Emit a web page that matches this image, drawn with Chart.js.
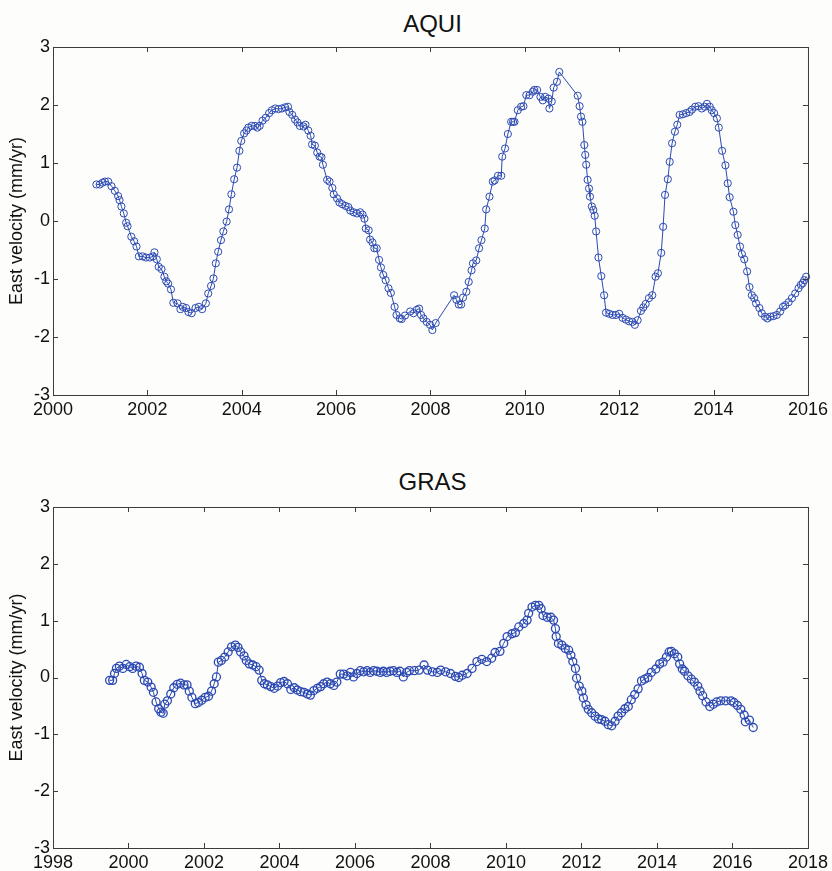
<!DOCTYPE html>
<html>
<head>
<meta charset="utf-8">
<title>East velocity – AQUI / GRAS</title>
<script src="https://cdn.jsdelivr.net/npm/chart.js@4/dist/chart.umd.min.js"></script>
<style>
  html, body { margin: 0; padding: 0; background: #fdfdfc; }
  body { width: 832px; height: 871px; position: relative; overflow: hidden; font-family: "Liberation Sans", Arial, sans-serif; }
  .panel { position: absolute; left: 0; width: 832px; }
  .ttl { position: absolute; left: 53px; width: 759px; text-align: center; font-size: 24px; line-height: 24px; color: #111; }
</style>
</head>
<body>
<div class="ttl" style="top:12px">AQUI</div>
<div class="panel" style="top:0"><canvas id="aquiChart" width="832" height="425"></canvas></div>
<div class="ttl" style="top:470px">GRAS</div>
<div class="panel" style="top:460px"><canvas id="grasChart" width="832" height="411"></canvas></div>
<script>
// AQUI station, east velocity (mm/yr)
const aquiYears = [
  2000.92, 2000.99, 2001.05, 2001.10, 2001.17, 2001.24, 2001.31, 2001.38, 2001.41, 2001.45,
  2001.50, 2001.55, 2001.58, 2001.66, 2001.72, 2001.77, 2001.82, 2001.90, 2001.97, 2002.05,
  2002.12, 2002.15, 2002.20, 2002.24, 2002.30, 2002.36, 2002.40, 2002.44, 2002.50, 2002.55,
  2002.64, 2002.70, 2002.75, 2002.82, 2002.87, 2002.94, 2003.02, 2003.09, 2003.16, 2003.24,
  2003.29, 2003.35, 2003.40, 2003.45, 2003.50, 2003.56, 2003.61, 2003.68, 2003.73, 2003.78,
  2003.84, 2003.90, 2003.95, 2003.99, 2004.05, 2004.10, 2004.14, 2004.21, 2004.28, 2004.33,
  2004.38, 2004.44, 2004.51, 2004.58, 2004.64, 2004.71, 2004.78, 2004.85, 2004.92, 2004.98,
  2005.01, 2005.07, 2005.13, 2005.18, 2005.23, 2005.31, 2005.35, 2005.41, 2005.46, 2005.49,
  2005.55, 2005.60, 2005.65, 2005.69, 2005.72, 2005.81, 2005.86, 2005.92, 2005.95, 2006.02,
  2006.07, 2006.13, 2006.20, 2006.26, 2006.30, 2006.37, 2006.44, 2006.51, 2006.56, 2006.60,
  2006.63, 2006.69, 2006.72, 2006.77, 2006.81, 2006.86, 2006.91, 2006.95, 2007.00, 2007.05,
  2007.11, 2007.16, 2007.24, 2007.28, 2007.35, 2007.39, 2007.46, 2007.57, 2007.64, 2007.71,
  2007.76, 2007.80, 2007.85, 2007.92, 2007.99, 2008.04, 2008.11, 2008.50, 2008.55, 2008.60,
  2008.65, 2008.69, 2008.76, 2008.81, 2008.87, 2008.90, 2008.97, 2009.03, 2009.08, 2009.15,
  2009.18, 2009.25, 2009.32, 2009.36, 2009.43, 2009.50, 2009.52, 2009.58, 2009.64, 2009.71,
  2009.75, 2009.78, 2009.85, 2009.92, 2009.97, 2010.03, 2010.10, 2010.17, 2010.20, 2010.26,
  2010.33, 2010.38, 2010.43, 2010.50, 2010.52, 2010.57, 2010.61, 2010.68, 2010.73, 2011.12,
  2011.16, 2011.19, 2011.22, 2011.26, 2011.28, 2011.30, 2011.33, 2011.36, 2011.38, 2011.42,
  2011.45, 2011.48, 2011.51, 2011.56, 2011.62, 2011.68, 2011.72, 2011.79, 2011.86, 2011.93,
  2012.00, 2012.07, 2012.14, 2012.21, 2012.28, 2012.33, 2012.39, 2012.46, 2012.51, 2012.56,
  2012.63, 2012.70, 2012.77, 2012.82, 2012.89, 2012.93, 2012.97, 2013.03, 2013.07, 2013.12,
  2013.18, 2013.23, 2013.28, 2013.35, 2013.42, 2013.49, 2013.54, 2013.61, 2013.68, 2013.75,
  2013.81, 2013.86, 2013.92, 2013.96, 2014.01, 2014.07, 2014.11, 2014.18, 2014.25, 2014.30,
  2014.34, 2014.42, 2014.46, 2014.51, 2014.56, 2014.60, 2014.65, 2014.71, 2014.76, 2014.81,
  2014.86, 2014.90, 2014.97, 2015.02, 2015.09, 2015.14, 2015.20, 2015.27, 2015.34, 2015.41,
  2015.47, 2015.52, 2015.59, 2015.66, 2015.73, 2015.80, 2015.85, 2015.89, 2015.92, 2015.96
];
const aquiVel = [
  0.63, 0.63, 0.66, 0.68, 0.68, 0.60, 0.52, 0.43, 0.36, 0.25,
  0.13, -0.03, -0.09, -0.27, -0.35, -0.44, -0.61, -0.61, -0.63, -0.63,
  -0.61, -0.54, -0.66, -0.79, -0.83, -0.96, -1.04, -1.08, -1.18, -1.41,
  -1.42, -1.52, -1.48, -1.50, -1.57, -1.59, -1.50, -1.48, -1.52, -1.42,
  -1.25, -1.12, -0.99, -0.73, -0.53, -0.33, -0.18, -0.01, 0.20, 0.46,
  0.72, 0.92, 1.21, 1.38, 1.51, 1.56, 1.61, 1.64, 1.64, 1.61,
  1.64, 1.73, 1.78, 1.86, 1.91, 1.94, 1.93, 1.94, 1.96, 1.97,
  1.88, 1.83, 1.75, 1.70, 1.64, 1.63, 1.66, 1.56, 1.47, 1.32,
  1.30, 1.18, 1.11, 1.10, 0.97, 0.71, 0.68, 0.57, 0.46, 0.39,
  0.32, 0.29, 0.26, 0.24, 0.18, 0.15, 0.13, 0.15, 0.11, 0.04,
  -0.13, -0.16, -0.32, -0.37, -0.47, -0.47, -0.67, -0.80, -0.93, -1.02,
  -1.16, -1.24, -1.48, -1.62, -1.68, -1.69, -1.63, -1.56, -1.59, -1.53,
  -1.51, -1.62, -1.68, -1.74, -1.79, -1.88, -1.76, -1.28, -1.36, -1.44,
  -1.44, -1.32, -1.22, -1.05, -0.85, -0.73, -0.68, -0.47, -0.33, -0.13,
  0.20, 0.42, 0.68, 0.70, 0.78, 0.78, 1.11, 1.25, 1.50, 1.71,
  1.71, 1.71, 1.91, 1.97, 1.98, 2.17, 2.17, 2.23, 2.26, 2.26,
  2.14, 2.08, 2.14, 2.11, 1.94, 2.06, 2.30, 2.40, 2.57, 2.16,
  1.98, 1.80, 1.71, 1.31, 1.14, 0.97, 0.71, 0.56, 0.42, 0.25,
  0.19, 0.09, -0.18, -0.63, -0.95, -1.28, -1.58, -1.60, -1.62, -1.62,
  -1.60, -1.67, -1.70, -1.73, -1.74, -1.79, -1.71, -1.55, -1.49, -1.43,
  -1.33, -1.28, -0.96, -0.90, -0.55, -0.10, 0.45, 0.72, 1.02, 1.34,
  1.54, 1.66, 1.83, 1.84, 1.86, 1.88, 1.92, 1.97, 1.98, 1.94,
  1.97, 2.02, 1.97, 1.91, 1.86, 1.77, 1.61, 1.21, 0.96, 0.65,
  0.41, 0.16, -0.07, -0.24, -0.44, -0.57, -0.66, -0.87, -1.14, -1.28,
  -1.33, -1.42, -1.50, -1.59, -1.65, -1.68, -1.65, -1.64, -1.62, -1.56,
  -1.48, -1.45, -1.40, -1.33, -1.25, -1.16, -1.10, -1.07, -1.02, -0.96
];

// GRAS station, east velocity (mm/yr)
const grasYears = [
  1999.50, 1999.58, 1999.63, 1999.68, 1999.76, 1999.85, 1999.94, 2000.03, 2000.11, 2000.20,
  2000.29, 2000.36, 2000.42, 2000.51, 2000.60, 2000.66, 2000.73, 2000.80, 2000.86, 2000.92,
  2000.96, 2001.03, 2001.12, 2001.20, 2001.29, 2001.38, 2001.47, 2001.55, 2001.61, 2001.68,
  2001.77, 2001.85, 2001.94, 2002.03, 2002.12, 2002.20, 2002.27, 2002.33, 2002.38, 2002.46,
  2002.55, 2002.64, 2002.73, 2002.83, 2002.90, 2002.97, 2003.06, 2003.12, 2003.20, 2003.29,
  2003.38, 2003.46, 2003.53, 2003.60, 2003.68, 2003.77, 2003.86, 2003.95, 2004.03, 2004.12,
  2004.21, 2004.30, 2004.39, 2004.47, 2004.56, 2004.65, 2004.74, 2004.82, 2004.91, 2005.00,
  2005.09, 2005.17, 2005.26, 2005.35, 2005.44, 2005.52, 2005.61, 2005.70, 2005.79, 2005.88,
  2005.96, 2006.05, 2006.14, 2006.23, 2006.32, 2006.40, 2006.49, 2006.58, 2006.67, 2006.75,
  2006.84, 2006.93, 2007.02, 2007.11, 2007.19, 2007.28, 2007.37, 2007.44, 2007.57, 2007.70,
  2007.83, 2007.92, 2008.05, 2008.18, 2008.27, 2008.40, 2008.53, 2008.66, 2008.75, 2008.84,
  2008.97, 2009.10, 2009.23, 2009.36, 2009.49, 2009.62, 2009.71, 2009.84, 2009.94, 2010.03,
  2010.16, 2010.25, 2010.34, 2010.47, 2010.56, 2010.60, 2010.69, 2010.78, 2010.87, 2010.93,
  2010.98, 2011.09, 2011.19, 2011.26, 2011.31, 2011.33, 2011.39, 2011.48, 2011.57, 2011.66,
  2011.72, 2011.77, 2011.84, 2011.87, 2011.94, 2012.01, 2012.05, 2012.12, 2012.18, 2012.27,
  2012.36, 2012.45, 2012.53, 2012.62, 2012.71, 2012.80, 2012.89, 2012.97, 2013.06, 2013.15,
  2013.24, 2013.32, 2013.41, 2013.50, 2013.59, 2013.67, 2013.76, 2013.85, 2013.97, 2014.07,
  2014.16, 2014.25, 2014.32, 2014.38, 2014.46, 2014.55, 2014.60, 2014.67, 2014.73, 2014.82,
  2014.91, 2014.99, 2015.08, 2015.14, 2015.21, 2015.30, 2015.40, 2015.49, 2015.58, 2015.69,
  2015.82, 2015.96, 2016.04, 2016.13, 2016.22, 2016.31, 2016.34, 2016.45, 2016.55
];
const grasVel = [
  -0.05, -0.05, 0.07, 0.16, 0.20, 0.16, 0.23, 0.19, 0.16, 0.20,
  0.18, 0.07, -0.05, -0.08, -0.17, -0.26, -0.43, -0.55, -0.61, -0.63,
  -0.47, -0.41, -0.29, -0.18, -0.12, -0.10, -0.13, -0.13, -0.24, -0.35,
  -0.46, -0.44, -0.40, -0.35, -0.33, -0.24, -0.11, 0.01, 0.27, 0.30,
  0.36, 0.45, 0.54, 0.57, 0.53, 0.45, 0.38, 0.30, 0.24, 0.22,
  0.19, 0.13, -0.05, -0.11, -0.13, -0.16, -0.19, -0.15, -0.09, -0.07,
  -0.11, -0.21, -0.18, -0.22, -0.25, -0.26, -0.29, -0.31, -0.23, -0.19,
  -0.16, -0.11, -0.08, -0.11, -0.14, -0.08, 0.06, 0.06, 0.03, 0.09,
  0.01, 0.07, 0.12, 0.10, 0.12, 0.09, 0.12, 0.11, 0.09, 0.11,
  0.09, 0.11, 0.12, 0.09, 0.11, 0.01, 0.09, 0.12, 0.12, 0.13,
  0.22, 0.13, 0.10, 0.09, 0.13, 0.10, 0.07, 0.02, 0.00, 0.04,
  0.07, 0.16, 0.28, 0.32, 0.28, 0.34, 0.44, 0.46, 0.60, 0.72,
  0.77, 0.79, 0.89, 0.95, 1.01, 1.13, 1.24, 1.27, 1.27, 1.21,
  1.09, 1.06, 1.06, 1.01, 0.86, 0.72, 0.60, 0.57, 0.51, 0.48,
  0.39, 0.28, 0.16, -0.01, -0.15, -0.24, -0.36, -0.48, -0.56, -0.62,
  -0.68, -0.73, -0.74, -0.77, -0.83, -0.85, -0.77, -0.68, -0.62, -0.55,
  -0.51, -0.39, -0.30, -0.20, -0.06, -0.03, 0.00, 0.09, 0.15, 0.24,
  0.27, 0.36, 0.45, 0.46, 0.42, 0.36, 0.24, 0.15, 0.11, 0.03,
  -0.03, -0.08, -0.15, -0.24, -0.32, -0.43, -0.51, -0.47, -0.43, -0.41,
  -0.41, -0.41, -0.44, -0.49, -0.56, -0.66, -0.78, -0.75, -0.88
];

const yTicks = [-3, -2, -1, 0, 1, 2, 3];

const lineBlue = '#2b49b2';
const frameColor = '#3c3c3c';
const textColor = '#111111';
const fontFamily = "'Liberation Sans', Arial, sans-serif";

// matlab style box with inward ticks on all four sides
const boxTicks = {
  id: 'boxTicks',
  afterDraw(chart) {
    const { ctx, chartArea: a, scales: { x, y } } = chart;
    const len = 5;
    ctx.save();
    ctx.strokeStyle = frameColor;
    ctx.lineWidth = 1;
    ctx.strokeRect(a.left + 0.5, a.top + 0.5, a.right - a.left, a.bottom - a.top);
    ctx.beginPath();
    x.ticks.forEach(t => {
      const px = Math.round(x.getPixelForValue(t.value)) + 0.5;
      ctx.moveTo(px, a.bottom); ctx.lineTo(px, a.bottom - len);
      ctx.moveTo(px, a.top); ctx.lineTo(px, a.top + len);
    });
    y.ticks.forEach(t => {
      const py = Math.round(y.getPixelForValue(t.value)) + 0.5;
      ctx.moveTo(a.left, py); ctx.lineTo(a.left + len, py);
      ctx.moveTo(a.right, py); ctx.lineTo(a.right - len, py);
    });
    ctx.stroke();
    ctx.restore();
  }
};

function makeChart(id, years, vel, xMin, xMax, xAxisH, radius, ptWidth) {
  const ctx = document.getElementById(id);
  return new Chart(ctx, {
    type: 'line',
    data: {
      datasets: [{
        data: years.map((yr, i) => ({ x: yr, y: vel[i] })),
        borderColor: lineBlue,
        borderWidth: 1,
        backgroundColor: 'transparent',
        pointStyle: 'circle',
        pointRadius: radius,
        pointBorderWidth: ptWidth,
        pointBorderColor: lineBlue,
        pointBackgroundColor: 'transparent',
        tension: 0,
        fill: false,
        clip: 6
      }]
    },
    options: {
      responsive: false,
      animation: false,
      events: [],
      layout: { padding: { top: 47, right: 20, left: 0, bottom: 0 } },
      plugins: { legend: { display: false }, tooltip: { enabled: false }, title: { display: false } },
      scales: {
        x: {
          type: 'linear',
          min: xMin,
          max: xMax,
          afterFit: s => { s.height = xAxisH; },
          afterBuildTicks: s => {
            const t = [];
            for (let v = xMin; v <= xMax; v += 2) t.push({ value: v });
            s.ticks = t;
          },
          grid: { display: false, drawTicks: false },
          border: { display: false },
          ticks: {
            autoSkip: false, maxRotation: 0, padding: 4, color: textColor,
            font: { family: fontFamily, size: 18 },
            callback: v => String(v)
          }
        },
        y: {
          type: 'linear',
          min: -3,
          max: 3,
          afterFit: s => { s.width = 53; },
          afterBuildTicks: s => { s.ticks = yTicks.map(v => ({ value: v })); },
          grid: { display: false, drawTicks: false },
          border: { display: false },
          title: {
            display: true,
            text: 'East velocity (mm/yr)',
            color: textColor,
            font: { family: fontFamily, size: 18 },
            padding: { top: 6, bottom: 0 }
          },
          ticks: {
            padding: 3, color: textColor,
            font: { family: fontFamily, size: 18 },
            callback: v => String(v)
          }
        }
      }
    },
    plugins: [boxTicks]
  });
}

makeChart('aquiChart', aquiYears, aquiVel, 2000, 2016, 30, 3.6, 1);
makeChart('grasChart', grasYears, grasVel, 1998, 2018, 23, 4, 1.3);
</script>
</body>
</html>
